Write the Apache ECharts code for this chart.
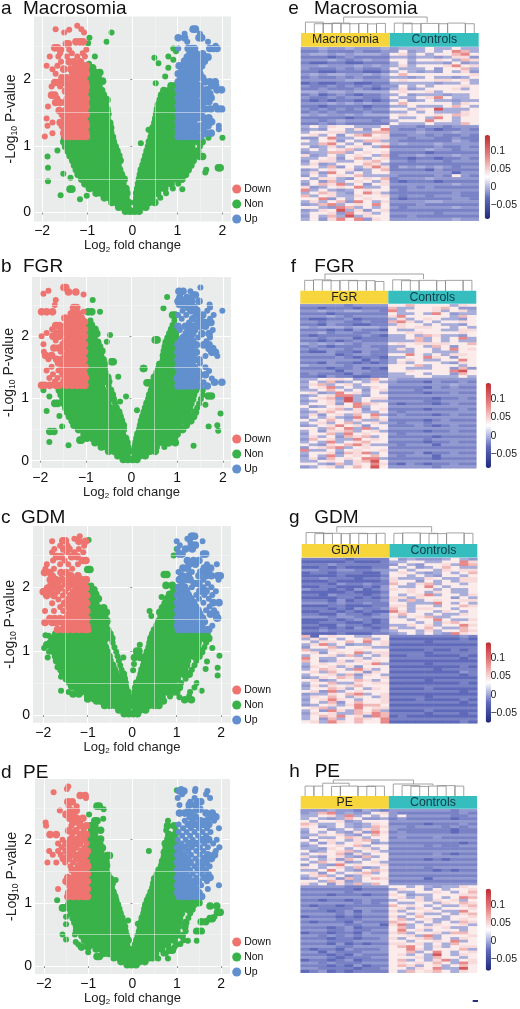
<!DOCTYPE html>
<html><head><meta charset="utf-8">
<style>html,body{margin:0;padding:0;background:#fff}#c{width:520px;height:1009px}</style>
<script src="https://cdn.jsdelivr.net/npm/echarts@6/dist/echarts.min.js"></script>
</head><body><div id="c"></div>
<script>
// Volcano data: each row is [y, x, x, ...]
const a_non=[[.02,-.15,-.05,.05,.15],[.08,-.3,-.2,-.1,.1,.2,.3],[.15,-.45,-.35,-.25,-.15,-.08,.07,.16,.26,.37,.5],
[.22,-.62,-.5,-.38,-.26,-.14,.1,.2,.32,.44,.62],[.29,-.8,-.68,-.56,-.44,-.32,-.2,-.12,.1,.2,.32,.44,.56,.75],
[.36,-.95,-.83,-.71,-.59,-.47,-.35,-.23,-.14,.12,.24,.36,.48,.6,.72,.9],[.43,-1.05,-.93,-.81,-.69,-.57,-.45,-.33,-.21,.14,.26,.38,.5,.62,.74,.86,1.02],
[.5,-1.12,-1,-.88,-.76,-.64,-.52,-.4,-.28,-.18,.16,.28,.4,.52,.64,.76,.88,1,1.1],[.57,-1.2,-1.08,-.96,-.84,-.72,-.6,-.48,-.36,-.24,.18,.3,.42,.54,.66,.78,.9,1.02,1.18],
[.64,-1.24,-1.12,-1,-.88,-.76,-.64,-.52,-.4,-.28,.2,.32,.44,.56,.68,.8,.92,1.04,1.16,1.24],[.71,-1.28,-1.16,-1.04,-.92,-.8,-.68,-.56,-.44,-.32,.24,.36,.48,.6,.72,.84,.96,1.08,1.2,1.3],
[.78,-1.32,-1.2,-1.08,-.96,-.84,-.72,-.6,-.48,-.36,-.27,.27,.39,.51,.63,.75,.87,.99,1.11,1.23,1.35],[.85,-1.38,-1.26,-1.14,-1.02,-.9,-.78,-.66,-.54,-.42,-.3,.3,.42,.54,.66,.78,.9,1.02,1.14,1.26,1.4],
[.92,-1.42,-1.3,-1.18,-1.06,-.94,-.82,-.7,-.58,-.46,-.34,.33,.45,.57,.69,.81,.93,1.05,1.17,1.29,1.45],[.99,-1.48,-1.36,-1.24,-1.12,-1,-.88,-.76,-.64,-.52,-.38,.36,.48,.6,.72,.84,.96,1.08,1.2,1.32,1.5],
[1.06,-1.52,-1.4,-1.28,-1.16,-1.04,-.92,-.8,-.68,-.56,-.42,.38,.5,.62,.74,.86,.98,1.1,1.22,1.34,1.46,1.55],[1.13,-1.5,-1.38,-1.26,-1.14,-1.02,-.9,-.78,-.66,-.54,-.44,.42,.54,.66,.78,.9,1.02,1.14,1.26,1.38,1.5],
[1.2,-.98,-.86,-.74,-.62,-.48,.44,.56,.68,.8,.92],[1.27,-.92,-.8,-.68,-.56,-.48,.46,.58,.7,.82,.95],[1.34,-.98,-.86,-.74,-.62,-.5,.5,.62,.74,.86,.97],
[1.41,-.92,-.8,-.68,-.56,.52,.64,.76,.88,.96],[1.48,-.98,-.86,-.74,-.62,-.54,.54,.66,.78,.9],[1.55,-.92,-.8,-.68,-.56,.56,.68,.8,.92,.97],
[1.62,-.98,-.86,-.74,-.6,.58,.7,.82,.94],[1.69,-.92,-.8,-.66,-.56,.62,.74,.86,.96],[1.76,-.98,-.86,-.74,-.64,.65,.77,.89,.97],
[1.83,-.92,-.8,-.68,.7,.82,.94],[1.9,-.98,-.86,-.74,.86,.95],[1.97,-.92,-.8,-.66],[2.04,-.98,-.86,-.76,.73],[2.1,-.92,-.82,-.72],[2.17,-.98,-.88,.8],[2.23,-.96],
[2.7,-.46],[2.56,-.57],[2.62,-.95],[2.54,-.98],[2.34,-.83,.8],[2.24,.58],[2.32,.49],[2.46,.91],[2.42,.97],[2.29,.91],[1.94,.52],[1.04,.19],[1.24,.36],
[.84,-1.88],[.67,-1.87,1.91,1.95],[.47,-1.87],[.93,-1.66],[.58,-1.53],[.52,-1.37],[.26,-1.59],[.35,-1.38,-1.34,1.11],[.2,-1.16],[.25,-1.01],[1.12,2,1.69],[.64,1.64],[.84,1.5,1.56],[.6,1.62]];
const a_down=[[1.14,-1.94,-1.48,-1.38,-1.28,-1.18,-1.08,-1.02],[1.19,-1.77,-1.52,-1.42,-1.32,-1.22,-1.12,-1.03],[1.25,-1.5,-1.36,-1.26,-1.16,-1.06],[1.3,-1.88,-1.55,-1.42,-1.3,-1.2,-1.1,-1.02],[1.35,-1.77,-1.6,-1.48,-1.36,-1.24,-1.14,-1.04],[1.41,-1.9,-1.5,-1.4,-1.28,-1.18,-1.08],[1.47,-1.55,-1.44,-1.32,-1.22,-1.12,-1.02],[1.53,-1.62,-1.48,-1.38,-1.26,-1.16,-1.06],
[1.59,-1.87,-1.42,-1.3,-1.2,-1.1,-1.02],[1.65,-1.7,-1.6,-1.48,-1.36,-1.24,-1.14,-1.04],[1.71,-1.66,-1.44,-1.32,-1.22,-1.12,-1.02],[1.76,-1.79,-1.72,-1.4,-1.28,-1.18,-1.08],[1.82,-1.48,-1.36,-1.24,-1.14,-1.04],[1.89,-1.79,-1.6,-1.42,-1.3,-1.2,-1.1,-1.02],[1.95,-1.72,-1.66,-1.5,-1.34,-1.24,-1.14,-1.04],[2.02,-1.56,-1.46,-1.3,-1.18,-1.08],
[2.08,-1.7,-1.32,-1.22,-1.12,-1.02],[2.15,-1.77,-1.52,-1.36,-1.28,-1.16,-1.04],[2.2,-1.9,-1.66,-1.25,-1.1,-1.02],[2.26,-1.58,-1.4,-1.3,-1.15],[2.34,-1.83,-1.64,-1.45,-1.22,-1.05],[2.39,-1.6,-1.34,-1.1],[2.44,-1.57,-1.4,-1.02],[2.47,-1.72,-1.66],[2.53,-1.42,-1.46],[2.56,-1.25,-1.16,-1.09],[2.7,-1.51,-1.07],[2.75,-1.7,-1.13],[2.74,-1.4],[2.8,-1.22]];
const a_up=[[1.14,1.02,1.12,1.22,1.32,1.42,1.52],[1.19,1.04,1.16,1.28,1.38,1.62,1.75],[1.25,1.02,1.1,1.22,1.34,1.46,1.56,1.92],[1.3,1.06,1.16,1.28,1.4,1.52,1.68,1.92],[1.36,1.02,1.12,1.24,1.36,1.62,1.76],[1.42,1.06,1.18,1.3,1.46,1.58,1.7],[1.48,1.02,1.12,1.24,1.38,1.52],[1.55,1.06,1.18,1.3,1.44,1.62,1.74,1.9,1.98],[1.6,1.02,1.12,1.24,1.38,1.52,1.85],[1.66,1.06,1.18,1.3,1.46,1.6,1.7],[1.72,1.02,1.14,1.26,1.4,1.56,1.75,1.66],[1.78,1.08,1.2,1.32,1.48,1.62,1.72],[1.84,1.02,1.14,1.28,1.42,1.55,1.66,1.88,1.98],[1.9,1.06,1.2,1.34,1.5,1.76,1.85],[1.96,1.02,1.12,1.26,1.4,1.62,1.72,1.84],[2.02,1.08,1.2,1.34,1.46,1.56],[2.08,1.02,1.14,1.28,1.42,1.5],[2.14,1.1,1.22,1.36,1.48],[2.2,1.04,1.16,1.28,1.42,1.54],[2.27,1.16,1.3,1.46,1.6],[2.33,1.22,1.36,1.5,1.62,1.68],[2.38,1.28,1.42,1.56],[2.46,1.02,1.24,1.32,1.38,1.72,1.8,1.88],[2.5,1.85],[2.56,1.22,1.68],[2.62,1.02,1.16,1.48,1.54],[2.68,1.16,1.5],[2.75,1.35,1.4]];

const b_non=[[.02,-.18,-.08,.02,.12],[.08,-.3,-.2,-.1,.08,.18,.3],[.15,-.5,-.38,-.26,-.14,-.06,.06,.16,.28,.4,.52],[.22,-.66,-.54,-.42,-.3,-.18,-.09,.08,.18,.3,.42,.54,.72],
[.29,-.8,-.68,-.56,-.44,-.32,-.2,-.1,.1,.22,.34,.46,.58,.7,.82],[.36,-.98,-.86,-.74,-.62,-.5,-.38,-.26,-.13,.12,.24,.36,.48,.6,.72,.84,.94],[.43,-1.04,-.92,-.8,-.68,-.56,-.44,-.32,-.2,.14,.26,.38,.5,.62,.74,.86,1],
[.5,-1.16,-1.04,-.92,-.8,-.68,-.56,-.44,-.32,-.18,.18,.3,.42,.54,.66,.78,.9,1.02,1.12],[.57,-1.26,-1.14,-1.02,-.9,-.78,-.66,-.54,-.42,-.3,-.18,.2,.32,.44,.56,.68,.8,.92,1.04,1.2],[.64,-1.3,-1.18,-1.06,-.94,-.82,-.7,-.58,-.46,-.34,-.22,.22,.34,.46,.58,.7,.82,.94,1.06,1.18,1.3],
[.71,-1.36,-1.24,-1.12,-1,-.88,-.76,-.64,-.52,-.4,-.25,.25,.37,.49,.61,.73,.85,.97,1.09,1.21,1.36],[.78,-1.4,-1.28,-1.16,-1.04,-.92,-.8,-.68,-.56,-.44,-.28,.28,.4,.52,.64,.76,.88,1,1.12,1.24,1.4],
[.85,-1.44,-1.32,-1.2,-1.08,-.96,-.84,-.72,-.6,-.48,-.34,.31,.43,.55,.67,.79,.91,1.03,1.15,1.27,1.44],[.92,-1.48,-1.36,-1.24,-1.12,-1,-.88,-.76,-.64,-.52,-.36,.34,.46,.58,.7,.82,.94,1.06,1.18,1.3,1.48],
[.99,-1.5,-1.38,-1.26,-1.14,-1.02,-.9,-.78,-.66,-.54,-.4,.38,.5,.62,.74,.86,.98,1.1,1.22,1.34,1.52],[1.06,-1.54,-1.42,-1.3,-1.18,-1.06,-.94,-.82,-.7,-.58,-.42,.4,.52,.64,.76,.88,1,1.12,1.24,1.36,1.56],[1.13,-1.58,-1.46,-1.34,-1.22,-1.1,-.98,-.86,-.74,-.62,-.46,.44,.56,.68,.8,.92,1.04,1.16,1.28,1.4,1.56],
[1.2,-1.48,-1.36,-1.02,-.9,-.78,-.66,-.5,.46,.58,.7,.82,.94],[1.27,-.96,-.84,-.72,-.6,-.5,.5,.62,.74,.86,.98],[1.34,-.98,-.86,-.74,-.62,-.52,.5,.6,.72,.84,.96],[1.41,-.94,-.82,-.7,-.58,.56,.68,.8,.92],[1.48,-.98,-.86,-.74,-.6,.6,.72,.84,.96],[1.55,-.94,-.82,-.7,-.6,.62,.74,.86,.98],[1.62,-.98,-.86,-.74,-.62,.7,.82,.94],[1.69,-.94,-.82,-.68,.7,.82,.96],[1.76,-.98,-.86,-.74,-.65,.72,.84,.97],[1.83,-.94,-.82,-.7,.74,.86,.98],[1.9,-.98,-.86,-.74,.76,.88],[1.97,-.94,-.82,.8,.92,.98],[2.04,-.98,-.86,-.76,.84,.96],[2.11,-.92,-.8,.88,.97],[2.18,-.98,-.88,.9],[2.25,-.9,.94],
[2.58,-.85],[2.39,-.69,-.87,-.95],[2.63,.78],[2.45,.7],[2.34,.96,.9],[1.03,-.12],[.95,-.25],[1.35,-.29],[2.02,-.47],[1.91,-.54],[1.59,-.4,-.44],[1.94,.56,.52],[1.48,.26,.27],[.81,.12],[.76,1.95],[.55,1.69],[.57,1.88],[.24,1.36],[.29,.96,.8],[.3,-1.8],[.25,-1.38],[.33,-1.13,-1.1],[.47,-1.79,-1.7],[.55,-1.52],[1.13,-1.93],[.8,-1.86],[1.03,-1.8],[.92,-1.68,-1.62],[.72,-1.58],[1.04,1.68,1.75],[.9,1.62],[.48,1.9],[1.25,.34,.4]];
const b_down=[[1.21,-1.97,-1.9,-1.79,-1.66,-1.58,-1.42,-1.3,-1.2,-1.1,-1.02],[1.27,-1.68,-1.48,-1.36,-1.25,-1.14,-1.04],[1.33,-1.8,-1.62,-1.42,-1.3,-1.2,-1.08,-1.01],[1.39,-1.72,-1.5,-1.38,-1.26,-1.14,-1.04],[1.45,-1.86,-1.6,-1.44,-1.32,-1.2,-1.08],[1.51,-1.75,-1.5,-1.38,-1.26,-1.14,-1.02],[1.57,-1.6,-1.46,-1.34,-1.22,-1.1],[1.63,-1.82,-1.64,-1.52,-1.38,-1.28,-1.16,-1.04],[1.69,-1.88,-1.75,-1.44,-1.32,-1.2,-1.08],[1.75,-1.92,-1.55,-1.38,-1.26,-1.14,-1.03],[1.81,-1.7,-1.6,-1.46,-1.32,-1.2,-1.08],[1.87,-1.93,-1.5,-1.38,-1.26,-1.14,-1.03],[1.93,-1.66,-1.44,-1.32,-1.2,-1.08],[2,-1.97,-1.72,-1.58,-1.38,-1.26,-1.14,-1.03],[2.05,-1.86,-1.64,-1.5,-1.44,-1.3,-1.2,-1.08],[2.11,-1.74,-1.55,-1.38,-1.26,-1.14,-1.03],[2.17,-1.66,-1.58,-1.44,-1.32,-1.2,-1.08],[2.23,-1.38,-1.26,-1.14,-1.03],[2.29,-1.46,-1.34,-1.2,-1.1],[2.36,-1.32,-1.24,-1.16],[2.39,-1.97,-1.86,-1.73,-1.05],[2.46,-1.27,-1.2],[2.5,-1.68],[2.58,-1.66],[2.67,-1.05],[2.68,-1.93],[2.71,-1.22,-1.38],[2.73,-1.82],[2.78,-1.48,-1.44]];
const b_up=[[1.2,1.02,1.12,1.24,1.36,1.5,1.66],[1.26,1.04,1.16,1.28,1.4,1.58,1.82,1.98],[1.32,1,1.1,1.22,1.34,1.46,1.76],[1.38,1.04,1.16,1.28,1.4,1.5,1.62],[1.44,1.1,1.22,1.34,1.46,1.7],[1.5,1.02,1.14,1.26,1.38,1.62],[1.56,1.08,1.2,1.32,1.5],[1.62,1.02,1.14,1.26,1.38,1.48],[1.68,1.08,1.2,1.34,1.62,1.88],[1.74,1.02,1.14,1.26,1.42,1.76,1.84],[1.8,1.08,1.2,1.34,1.7,1.78],[1.86,1.02,1.14,1.26,1.42,1.58,1.7],[1.92,1.08,1.22,1.34,1.64],[1.98,1.14,1.28,1.46,1.72],[2.04,1.2,1.34,1.54,1.7],[2.1,1.06,1.26,1.38,1.78],[2.16,1.02,1.18,1.34,1.5,1.62],[2.22,1.26,1.44,1.6,1.68,1.74],[2.28,1.1,1.34,1.5,1.72],[2.34,1.02,1.2,1.42,1.56,1.8],[2.41,1.12,1.3,1.44,1.66,1.99],[2.46,1.24,1.38,1.72],[2.51,1.05,1.14,1.26,1.71],[2.56,1.02,1.14,1.32,1.48],[2.62,1.06,1.22],[2.66,1.4,1.36],[2.72,1.04,1.13,1.29],[2.78,1.51]];

const c_non=[[.02,-.18,-.08,.02,.12],[.08,-.3,-.2,-.1,.08,.18,.3],[.15,-.62,-.5,-.38,-.26,-.14,-.05,.05,.14,.26,.38,.5,.6],[.22,-.8,-.68,-.56,-.44,-.32,-.2,-.08,.06,.18,.3,.42,.54,.7],[.29,-1,-.88,-.76,-.64,-.52,-.4,-.28,-.16,-.08,.07,.19,.31,.43,.55,.67,.85],
[.36,-1.16,-1.04,-.92,-.8,-.68,-.56,-.44,-.32,-.2,-.1,.07,.19,.31,.43,.55,.67,.79,.91,1],[.43,-1.26,-1.14,-1.02,-.9,-.78,-.66,-.54,-.42,-.3,-.15,.08,.2,.32,.44,.56,.68,.8,.92,1.06],[.5,-1.32,-1.2,-1.08,-.96,-.84,-.72,-.6,-.48,-.36,-.24,-.16,.1,.22,.34,.46,.58,.7,.82,.94,1.1],
[.57,-1.48,-1.36,-1.24,-1.12,-1,-.88,-.76,-.64,-.52,-.4,-.28,-.18,.17,.29,.41,.53,.65,.77,.89,1.01,1.2],[.64,-1.56,-1.44,-1.32,-1.2,-1.08,-.96,-.84,-.72,-.6,-.48,-.36,-.2,.2,.32,.44,.56,.68,.8,.92,1.04,1.16,1.28],[.71,-1.6,-1.48,-1.36,-1.24,-1.12,-1,-.88,-.76,-.64,-.52,-.4,-.24,.22,.34,.46,.58,.7,.82,.94,1.06,1.18,1.34],
[.78,-1.64,-1.52,-1.4,-1.28,-1.16,-1.04,-.92,-.8,-.68,-.56,-.44,-.27,.26,.38,.5,.62,.74,.86,.98,1.1,1.22,1.4],[.85,-1.7,-1.58,-1.46,-1.34,-1.22,-1.1,-.98,-.86,-.74,-.62,-.5,-.3,.28,.4,.52,.64,.76,.88,1,1.12,1.24,1.44],[.92,-1.72,-1.6,-1.48,-1.36,-1.24,-1.12,-1,-.88,-.76,-.64,-.52,-.33,.3,.42,.54,.66,.78,.9,1.02,1.14,1.26,1.38,1.5],
[.99,-1.76,-1.64,-1.52,-1.4,-1.28,-1.16,-1.04,-.92,-.8,-.68,-.56,-.36,.34,.46,.58,.7,.82,.94,1.06,1.18,1.3,1.42,1.56],[1.06,-1.8,-1.68,-1.56,-1.44,-1.32,-1.2,-1.08,-.96,-.84,-.72,-.6,-.4,.38,.5,.62,.74,.86,.98,1.1,1.22,1.34,1.46,1.62],[1.13,-1.84,-1.72,-1.6,-1.48,-1.36,-1.24,-1.12,-1,-.88,-.76,-.64,-.44,.4,.52,.64,.76,.88,1,1.12,1.24,1.36,1.48,1.66],
[1.2,-1.8,-1.68,-1.56,-1.44,-1.32,-1.2,-1.08,-.96,-.84,-.72,-.6,-.46,.42,.54,.66,.78,.9,1.02,1.14,1.26,1.38,1.5,1.62,1.72],[1.27,-1.72,-1.6,-1.48,-1.36,-1.24,-1.12,-1,-.88,-.76,-.64,-.5,.46,.58,.7,.82,.94,1.06,1.18,1.3,1.42,1.54,1.68],[1.33,-1.55,-1.43,-1.31,-1.19,-1.07,-.95,-.83,-.71,-.55,.5,.62,.74,.86,.98,1.1,1.22,1.34,1.46,1.58],
[1.4,-.98,-.86,-.74,-.6,.56,.68,.8,.92],[1.47,-.94,-.82,-.7,-.56,.6,.72,.84,.96],[1.54,-.98,-.86,-.72,-.62,.65,.77,.89],[1.61,-.94,-.8,-.7,-.58,.62,.74,.86,.98],[1.68,-.98,-.86,-.76,-.64,.68,.8,.92],[1.75,-.94,-.82,.74,.86,.98],[1.82,-.98,-.86,-.76,.78,.9],[1.89,-.94,-.82,.84,.96],[1.96,-.98,-.86,.92],[2.03,-.92,.9,.76],[2.2,.72,.78],[2.28,-1,-.95],[2.74,-.98],[2.6,1],[2.5,.93],[2.02,-1],[1.63,.39],[1.55,.43],[1.85,.66],
[1.1,.17],[1,.15,.1],[.9,.05,.18,-.2],[.8,.04],[.7,.02],[1.25,-1.95],[1.24,-1.88],[1.1,-1.92,-1.88],[1.05,-1.98],[.99,-1.87],[.9,-1.9],[.75,-1.68],[.6,-1.6],[.38,-1.6],[.36,-1.43],[.33,-1.33,-1.2],[.25,-1,-.85],[.21,-.72],[.5,-1.42],[.45,-1.36,-1.3],[.74,1.92],[.93,1.96],[.62,1.92],[.72,1.65],[.84,1.68],[1.05,1.8],[.38,1.56],[.5,1.45],[.43,1.4],[.36,1.3],[.28,1.06],[.24,1.33,1.18],[.3,1.28]];
const c_down=[[1.34,-1.68,-1.56,-1.44,-1.32,-1.2,-1.08,-1],[1.4,-1.48,-1.36,-1.24,-1.12,-1.02],[1.45,-1.96,-1.8,-1.7,-1.56,-1.42,-1.3,-1.18,-1.06],[1.51,-1.85,-1.74,-1.62,-1.48,-1.36,-1.24,-1.12,-1.02],[1.57,-1.44,-1.32,-1.2,-1.08],[1.63,-1.96,-1.76,-1.55,-1.38,-1.26,-1.14,-1.02],[1.69,-1.62,-1.44,-1.32,-1.2,-1.08],[1.75,-1.8,-1.52,-1.38,-1.26,-1.14,-1.02],[1.81,-1.66,-1.44,-1.32,-1.2,-1.08],[1.87,-1.92,-1.76,-1.56,-1.38,-1.26,-1.14,-1.02],[1.93,-2,-1.95,-1.85,-1.68,-1.5,-1.32,-1.2,-1.08],[1.99,-1.9,-1.74,-1.62,-1.44,-1.26,-1.14,-1.04],[2.05,-1.82,-1.68,-1.5,-1.36,-1.2,-1.08],[2.12,-1.84,-1.72,-1.58,-1.44,-1.3,-1.14,-1.03],[2.18,-1.78,-1.38,-1.22],[2.23,-1.97,-1.85,-1.6,-1.48],[2.29,-1.95,-1.76,-1.35],[2.36,-1.92,-1.62,-1.44,-1.22],[2.42,-1.78,-1.52,-1.12,-1.04],[2.48,-1.7,-1.6,-1.36,-1.24],[2.55,-1.8,-1.47,-1.3,-1.1],[2.6,-1.75,-1.54,-1.42,-1.2],[2.65,-1.62,-1.45,-1.08],[2.72,-1.8,-1.2,-1.05],[2.73,-1.56,-1.5],[2.76,-1.3],[2.8,-1.18]];
const c_up=[[1.34,1.04,1.14,1.26,1.38,1.5,1.62,1.72],[1.4,1.02,1.08,1.2,1.32,1.44,1.56,1.8],[1.46,1.04,1.14,1.26,1.38,1.5,1.62],[1.52,1.02,1.1,1.22,1.34,1.46,1.58,1.9,1.92],[1.58,1.06,1.16,1.28,1.4,1.52,1.76,1.88],[1.64,1.02,1.12,1.24,1.36,1.48,1.66,1.84],[1.7,1.06,1.18,1.3,1.42,1.74],[1.76,1.02,1.14,1.26,1.38,1.6,1.82,1.95],[1.82,1.08,1.2,1.32,1.5,1.72],[1.88,1.02,1.14,1.26,1.44,1.62,1.8],[1.94,1.08,1.22,1.52,1.66,1.88],[2,1.04,1.18,1.34,1.6,1.78],[2.06,1.12,1.4,1.5,1.7],[2.12,1.06,1.2,1.3,1.6,1.94],[2.18,1.12,1.26,1.5,1.66,1.78,1.98,1.92],[2.24,1.04,1.34,1.54,1.7],[2.3,1.14,1.24,1.62,1.76],[2.36,1.28,1.42,1.68,1.9],[2.42,1.24,1.38,1.5],[2.52,1.05,1.12,1.6,1.65],[2.6,1.02,1.2,1.35],[2.66,1.07,1.33,1.42],[2.72,1,1.58,1.3],[2.76,1.24],[2.8,1.33,1.4,1.36]];

const d_non=[[.02,-.12,-.02,.08],[.07,-.26,-.16,-.06,.06,.16,.28],[.13,-.42,-.3,-.18,-.08,.05,.14,.26,.38,.46],[.2,-.66,-.54,-.42,-.3,-.18,-.08,.05,.16,.28,.4,.52,.7],[.27,-.82,-.7,-.58,-.46,-.34,-.22,-.08,.06,.18,.3,.42,.54,.66,.84],
[.34,-1,-.88,-.76,-.64,-.52,-.4,-.28,-.14,.07,.19,.31,.43,.55,.67,.79,1],[.41,-1.08,-.96,-.84,-.72,-.6,-.48,-.36,-.24,-.1,.1,.22,.34,.46,.58,.7,.82,.94,1.15],[.48,-1.14,-1.02,-.9,-.78,-.66,-.54,-.42,-.3,-.14,.13,.25,.37,.49,.61,.73,.85,.97,1.12],
[.55,-1.22,-1.1,-.98,-.86,-.74,-.62,-.5,-.38,-.26,-.17,.16,.28,.4,.52,.64,.76,.88,1,1.2],[.62,-1.26,-1.14,-1.02,-.9,-.78,-.66,-.54,-.42,-.3,-.18,.18,.3,.42,.54,.66,.78,.9,1.02,1.18],[.69,-1.3,-1.18,-1.06,-.94,-.82,-.7,-.58,-.46,-.34,-.21,.2,.32,.44,.56,.68,.8,.92,1.04,1.2],
[.76,-1.34,-1.22,-1.1,-.98,-.86,-.74,-.62,-.5,-.38,-.24,.22,.34,.46,.58,.7,.82,.94,1.06,1.26],[.83,-1.38,-1.26,-1.14,-1.02,-.9,-.78,-.66,-.54,-.42,-.28,.26,.38,.5,.62,.74,.86,.98,1.1,1.3],[.9,-1.4,-1.28,-1.16,-1.04,-.92,-.8,-.68,-.56,-.44,-.31,.28,.4,.52,.64,.76,.88,1,1.12,1.24,1.34],
[.97,-1.44,-1.32,-1.2,-1.08,-.96,-.84,-.72,-.6,-.48,-.34,.3,.42,.54,.66,.78,.9,1.02,1.14,1.26,1.38],[1.04,-1.42,-1.3,-1.18,-1.06,-.94,-.82,-.7,-.58,-.46,-.38,.34,.46,.58,.7,.82,.94,1.06,1.18,1.3],[1.1,-1,-.88,-.76,-.64,-.52,-.4,.38,.5,.62,.74,.86,.98],
[1.17,-.96,-.84,-.72,-.6,-.44,.42,.54,.66,.78,.9],[1.24,-.98,-.86,-.74,-.62,-.48,.46,.58,.7,.82,.94],[1.31,-.94,-.82,-.7,-.58,-.46,.48,.6,.72,.84,.96],[1.38,-.98,-.86,-.74,-.62,-.5,.5,.62,.74,.86,.98],[1.45,-.94,-.82,-.7,-.56,.56,.68,.8,.92],[1.52,-.98,-.86,-.74,-.6,.6,.72,.84,.96],[1.59,-.94,-.82,-.7,-.58,.66,.78,.9,.98],[1.66,-.98,-.86,-.72,-.6,.68,.8,.92],[1.73,-.94,-.82,-.66,.72,.84,.96],[1.8,-.98,-.86,-.72,.72,.84,.98],[1.87,-.94,-.82,-.68,.76,.88],[1.94,-.98,-.86,-.74,.74,.86,.98],[2.01,-.94,-.82,-.72,.8,.92],[2.08,-.98,-.86,.82,.96],[2.15,-.92,-.84,-.72,.76,.98],[2.22,-.95,-.85,.79,.94],[2.3,-.85,-.8,.8],[2.33,-.66],[2.4,-.98],[2.48,-.65],[2.53,-.8,-.75],[2.78,1],[1.75,-.52,-.57],[1.82,.37],[1.36,-.38],
[1.04,-1.7],[.92,-1.58,-1.55],[.78,-1.5],[.66,-1.5],[.5,-1.58],[.42,-1.5],[.56,-1.28],[.5,-1.3],[.38,-1.28],[.34,-1.22],[.3,-1.15,-1],[.22,-1],[.15,-.8,-.75],[.67,.12],[.72,-.1],[.95,1.75,1.9],[1.0,1.4,1.5],[.85,1.98,1.92],[.78,1.85],[.75,1.75,1.8],[.7,1.55,1.65],[.55,1.45,1.55],[.4,1.25,1.45],[.35,1.08],[.3,.95],[.25,.84,.9],[.2,.75],[.12,.58,.8]];
const d_down=[[1.1,-1.46,-1.34,-1.22,-1.1,-1.02],[1.16,-1.44,-1.3,-1.18,-1.06],[1.22,-1.68,-1.38,-1.26,-1.14,-1.02],[1.28,-1.42,-1.3,-1.2,-1.08],[1.34,-1.5,-1.38,-1.26,-1.14,-1.02],[1.4,-1.46,-1.32,-1.2,-1.08],[1.46,-1.3,-1.2,-1.12,-1.02],[1.52,-1.36,-1.26,-1.14],[1.58,-1.4,-1.22,-1.08,-1.01],[1.64,-1.92,-1.72,-1.52,-1.34,-1.16,-1.04],[1.7,-1.56,-1.44,-1.26,-1.12],[1.76,-1.8,-1.62,-1.44,-1.32,-1.2,-1.06],[1.82,-1.88,-1.68,-1.5,-1.36,-1.14,-1.02],[1.88,-1.6,-1.42,-1.28,-1.08],[1.94,-1.68,-1.5,-1.34,-1.2,-1.03],[2,-1.58,-1.4,-1.26,-1.1],[2.08,-1.86,-1.72,-1.36,-1.18,-1.04],[2.14,-1.44,-1.28,-1.1],[2.22,-1.95,-1.38,-1.18,-1.04],[2.27,-1.96,-1.34,-1.2],[2.34,-1.42,-1.26,-1.12],[2.4,-1.5,-1.34],[2.46,-1.64,-1.4,-1.27],[2.53,-1.44,-1.26],[2.6,-1.46,-1.36],[2.66,-1.05],[2.7,-1.18,-1.07],[2.75,-1.78],[2.8,-1.48],[2.84,-1.45]];
const d_up=[[1.1,1.06,1.18,1.3,1.42,1.56],[1.16,1.02,1.12,1.24,1.36,1.5],[1.22,1.04,1.16,1.3,1.44,1.7],[1.28,1.02,1.12,1.24,1.38,1.55,1.95],[1.34,1.06,1.18,1.34,1.48,1.68],[1.4,1.02,1.14,1.26,1.44,1.62,1.75],[1.46,1.08,1.2,1.36,1.54,1.72],[1.52,1.02,1.14,1.3,1.48,1.64],[1.58,1.08,1.22,1.4,1.56,1.74],[1.64,1.02,1.16,1.3,1.5,1.66],[1.7,1.08,1.24,1.42,1.62,1.78],[1.76,1.02,1.16,1.32,1.52,1.7,1.85],[1.82,1.08,1.26,1.44,1.6,1.88],[1.88,1.02,1.18,1.34,1.52,1.7,1.96],[1.94,1.1,1.28,1.44,1.62,1.82],[2,1.02,1.2,1.36,1.56,1.72,1.9],[2.06,1.12,1.3,1.48,1.66],[2.12,1.04,1.22,1.4,1.58,1.76],[2.18,1.14,1.32,1.5,1.68,1.95],[2.24,1.04,1.26,1.42,1.58,1.72],[2.3,1.18,1.36,1.54,1.68,1.84],[2.36,1.3,1.42,1.76,1.88],[2.42,1.06,1.18,1.32,1.66,1.8],[2.48,1.26,1.44,1.52],[2.55,1.06,1.28,1.42],[2.6,1.3,1.54,1.48],[2.66,1.02,1.4,1.75],[2.72,1.12,1.66],[2.77,1.06,1.16,1.41,1.69],[2.8,1.1,1.42]];

// Heatmap values: one digit per sample (20 columns), row by row, indexing heatLevels
const heatLevels=[-.042,-.03,-.02,-.011,-.003,.038,.046,.062,.085,.115];
const hm_e=`33433433343444544544
22322232233534545874
34434344435645455785
22212322224434434663
33343234335545565476
21122112224534443534
33433343434645556856
32223232235444535574
22112221124543435463
34344334345755555556
23223232234434544345
33333443335655566564
12112211224444434454
32232323233545455565
22322232124634555645
44344344445655645555
23123212234534443445
32232332235445685445
21212212124534544344
33343434335755555465
22122221224454445754
32323232335546594445
23232223224454544465
43433434445655565765
22222122225445485455
33234333234555855455
22323222225444544475
45465544453332332333
34355463583223212232
45566444773334333433
56453578562233232232
33584455663323322322
54563547743222222432
44785453563433343333
53464565482222232232
45456745553333433233
34477456562222122222
63454565472334333433
44563574562212212232
35664456753323332333
46345557642222222222
55473546862434343233
34565634572222132222
46385454553333333133
35456574443222232532
54664356572333433333
45374565462122212222
35768453563333333433
63456584452232322222
84543456553233333333
45764358642222222322
74564465563233233322
55835456552122222332
46457385463333443333
34784565852223222222
55438745453233333433
34659463562222222222
45563856453333323333
35474946552232222222
45368583653333333433`.split('\n');
const hm_f=`33333233335575555465
22122212227445567533
33433443328455564564
22212222225445485344
33343233336855555475
21122312224645654435
33233223227864545565
22132211224655454435
43444344435656655454
22212132215445554466
33423322335566555565
21222223214454764435
33233312224457454584
22121232224447454544
43434323335656666557
23212223224455475355
32333233324645545856
21132213224445544455
33331233225585454665
22223212214455865355
33333331324565445585
22132212124645554365
43333233335557455545
22212231215544455373
33331333225565555895
23222132224455455375
22132211224445544454
44566534754333333333
35473454643222132232
46745645553333333433
35684544652222132322
44575453563332333333
56348564542222122322
34568843553333333333
45673945662222212232
34564945443333223333
45563587652122212322
53456584553333333333
45567463562222122232
34675564453233333333
46356475842322212322
35464385753333333333
54575464462222123222
45645745643233233333
34568563552223212322
55475848453333333333
45366745642222122322
35574856553233333333
46453767452222212222
37564485653333233333
45484567552222122322
54365786443233313333
35678456552222222222
84454565563333333333
45563768452223122322
35484565753233313333
46375658842222212222
44565467953333333333
55437465862132122322
34564575953333323333`.split('\n');
const hm_g=`22222122225343334543
11111211124455445586
22232222223543556487
11212111225453457544
33223322334545546566
12212221135654345457
11112111125545435545
22322212236444654466
11121111126553545466
22213223227546745545
11221112135445854555
32212131236565545445
11111211125565465445
22132221235456845546
11112212126646555354
22213122236474565566
33323223225544485454
11122111226645545576
22212132237546655455
11221212118645546545
22113221235755454465
33323322336456744555
11121232125545585446
11222112125554546755
22113221224465645586
11212132126445754475
22322222234554645576
11112111223454543865
71565544552222222232
46454557451111111121
54665758562222122222
46845344561111111111
35574556442222222222
74465565551111211212
56356584662222122222
45564745461122111121
85445564552222222212
75346465651111111111
45656556842222122222
36564635551111111121
45765486452222212222
56475563651111111132
45564736542222222212
34657645561111111111
56345576452222122222
45574465661111111121
36465675552222222222
45576454651111211111
56384565552222222212
34465784561111111111
46575465462222122222
35686545561112111121
45473575562222222212
34564687751111111111
56745585662222222222
45386475741111211111
36564476872222122212
45768563871211111111
45374576582222222222
56486575581111111121`.split('\n');
const hm_h=`33343324323333333233
34783433563222222232
44564845453533333223
45434753342322222122
54556345553333333333
76445434652222122232
65345434763323332323
45534546753222222122
35454363862322222122
44656435753333333333
35445764552322232222
53565467453333333333
45364565342222222212
34556574553333232233
44365456452222222222
53456745643333333333
45657364552222232122
64356437453333333333
45463754552222121222
54756345643333333333
35438565562222222222
65456473453333233333
44585435762222212122
56354567453333333333
46745346552222222222
34563745763333133333
55476345552222222222
64536474753333333333
33333223335545434465
22222212224655354556
33333233335445565457
22212221226534455566
33333333335646454587
22122123224556465645
33333323235445546576
21221222227565454467
33222233335646545556
22212313226455654485
33332323335546445467
12221212226457554556
33332223335745644565
21222132227654545476
33333223316845465564
22212312225745656445
33322322335856455545
12212213226745564775
33232323335564845556
22212212236456745465
33322233335545565845
22213121226656454755
33332233335785464566
21221322235586455574
33132223335574585456
22212132225645495465
33321222335556475545
12212312225745468456
33232223335656575486
22212131225764564575
33222212235546584495
12312122225475675465`.split('\n');

const groupNames=[['Macrosomia','Controls'],['FGR','Controls'],['GDM','Controls'],['PE','Controls']];
const groupSizes=[10,10];
const volcanoTitles=['Macrosomia','FGR','GDM','PE'];
const volcanoLetters=['a','b','c','d'];
const heatLetters=['e','f','g','h'];
const xTicks=[-2,-1,0,1,2], xMinor=[-1.5,-.5,.5,1.5], yTicks=[0,1,2], yMinor=[.5,1.5,2.5];
const cbTicks=[-.05,0,.05,.1];
// Dendrogram brackets: [x1, x2, height, leftLegBase, rightLegBase], in column units
const dend_e=[[.5,2.5,.68],[1.5,3.5,.58],[2.5,4.5,.6],[3.5,5.5,.62],[4.5,6.5,.58],[6.5,7.5,.6],[7.5,8.5,.57],[8.5,9.5,.6],[10.5,12.5,.62],[11.5,13.5,.58],[13.5,15.5,.6],[15.5,16.5,.58],[16.5,18.5,.62],[18.5,19.5,.58],[4.8,14.2,1,.65,.65]];
const dend_f=[[.5,1.5,.62],[1.5,3.5,.65],[2.5,4.5,.6],[4.5,6.5,.62],[5.5,7.5,.6],[7.5,8.5,.6],[8.5,9.5,.55],[10.5,12.5,.65],[11.5,13.5,.6],[13.5,15.5,.62],[15.5,16.5,.6],[16.5,18.5,.62],[18.5,19.5,.62],[2.8,14,1,.7,.7]];
const dend_g=[[.5,2.5,.66],[1.5,3.5,.6],[2.5,4.5,.62],[4.5,5.5,.6],[5.5,7.5,.62],[6.5,8.5,.6],[8.5,9.5,.62],[10.5,11.5,.62],[11.5,13.5,.64],[13.5,15.5,.62],[14.5,16.5,.6],[16.5,18.5,.64],[18.5,19.5,.62],[4,14.8,1,.68,.68]];
const dend_h=[[.5,1.5,.62],[1.5,2.5,.62],[3.5,4.5,.6],[4.5,6.5,.62],[6.5,8.5,.6],[7.5,9.5,.62],[2.5,5.5,.8,.62,.62],[11.5,13.5,.65],[12.5,14.5,.6],[14.5,16.5,.62],[15.5,17.5,.65],[17.5,18.5,.62],[10.5,15,.75,0,.65],[3.7,12.8,1,.8,.75]];
const dendrograms=[dend_e,dend_f,dend_g,dend_h];
const heatRows=[hm_e,hm_f,hm_g,hm_h];
const volcanoData=[[a_down,a_non,a_up],[b_down,b_non,b_up],[c_down,c_non,c_up],[d_down,d_non,d_up]];

// Layout
const vLay=[
 {l:34,w:197,t:16.5,h:205,xr:[-2.18,2.19],yr:[-.135,2.94],lg:183.5,tt:[-.5,23]},
 {l:32,w:199,t:277,h:191,xr:[-2.18,2.18],yr:[-.117,2.95],lg:433.5,tt:[257,23]},
 {l:33,w:198,t:526,h:196.7,xr:[-2.23,2.22],yr:[-.12,2.96],lg:684.5,tt:[508.5,21]},
 {l:35,w:195,t:779,h:195,xr:[-2.2,2.2],yr:[-.126,2.96],lg:936.5,tt:[763.5,23]}];
const hLay=[
 {l:301,r:478.7,t:47.3,b:220.7,bt:33,dt:17,cl:484.7,ct:135,cb:219,z:187.5,tt:[-.5,288.3,314]},
 {l:300.3,r:476.3,t:304.3,b:468.3,bt:290.7,dt:274,cl:485.7,ct:383,cb:468,z:435.7,tt:[257,290.7,314.3]},
 {l:301.7,r:477.3,t:558,b:723.3,bt:544,dt:526.7,cl:485.7,ct:642.3,cb:722.7,z:694.7,tt:[508.5,289,314.3]},
 {l:300.7,r:477,t:809.3,b:972.7,bt:796,dt:780,cl:485.7,ct:888.7,cb:970.7,z:941.3,tt:[762.5,289.3,314.7]}];
const FONT='"Liberation Sans",Arial,sans-serif';
const COL={Down:'#EE7470',Non:'#39B24A',Up:'#6290CE'};
const grids=[],xAxes=[],yAxes=[],series=[],titles=[],legends=[],vms=[];
// a point with a close neighbour in its row belongs to a dense mass, drawn slightly larger so the mass closes up
function flat(rows){const o=[];rows.forEach(r=>{for(let i=1;i<r.length;i++){
  const near=(i>1&&Math.abs(r[i]-r[i-1])<.16)||(i<r.length-1&&Math.abs(r[i+1]-r[i])<.16);
  o.push({value:[r[i],r[0]],symbolSize:near?7.6:6});}});return o;}
const fmt=v=>String(v).replace('-','\u2212');
function addAxes(g,x,y){const i=grids.length;grids.push(g);xAxes.push(Object.assign({gridIndex:i},x));yAxes.push(Object.assign({gridIndex:i},y));return i;}

vLay.forEach((L,p)=>{
 const i=addAxes({left:L.l,top:L.t,width:L.w,height:L.h,show:true,backgroundColor:'#EAEBEB',borderWidth:0},
 {type:'value',min:L.xr[0],max:L.xr[1],interval:1,
  name:'Log{s|2} fold change',nameLocation:'middle',nameGap:14.5,
  nameTextStyle:{fontFamily:FONT,fontSize:13,color:'#222',rich:{s:{fontSize:8,fontFamily:FONT,color:'#222',padding:[7,0,0,0]}}},
  axisLine:{show:false},axisTick:{show:true,length:2,customValues:xTicks,lineStyle:{color:'#777',width:.8}},
  axisLabel:{customValues:xTicks,formatter:fmt,fontFamily:FONT,fontSize:14,color:'#111',margin:3},
  splitLine:{show:true,lineStyle:{color:'#fff',width:1}}},
 {type:'value',min:L.yr[0],max:L.yr[1],interval:1,
  name:'-Log{s|10} P-value',nameLocation:'middle',nameGap:15,
  nameTextStyle:{fontFamily:FONT,fontSize:14,color:'#222',rich:{s:{fontSize:8.5,fontFamily:FONT,color:'#222',padding:[7,0,0,0]}}},
  axisLine:{show:false},axisTick:{show:true,length:2,customValues:yTicks,lineStyle:{color:'#777',width:.8}},
  axisLabel:{customValues:yTicks,formatter:fmt,fontFamily:FONT,fontSize:14,color:'#111',margin:3},
  splitLine:{show:true,lineStyle:{color:'#fff',width:1}}});
 series.push({type:'scatter',name:'minor',xAxisIndex:i,yAxisIndex:i,data:[],z:1,silent:true,
  markLine:{silent:true,symbol:'none',animation:false,label:{show:false},lineStyle:{color:'#F6F6F6',width:.5,type:'solid'},
   data:xMinor.map(v=>({xAxis:v})).concat(yMinor.map(v=>({yAxis:v})))}});
 const [dn,no,up]=volcanoData[p];
 [['Non',no],['Down',dn],['Up',up]].forEach(([n,d])=>{
  series.push({type:'scatter',name:n,xAxisIndex:i,yAxisIndex:i,data:flat(d),z:2,silent:true,
   itemStyle:{color:COL[n],opacity:1}});
 });
 legends.push({left:232.2,top:L.lg,orient:'vertical',padding:0,itemGap:4,itemWidth:9,itemHeight:9,icon:'circle',selectedMode:false,
  data:['Down','Non','Up'],textStyle:{fontFamily:FONT,fontSize:10.5,color:'#111',padding:[0,0,0,-2]}});
 titles.push({text:volcanoLetters[p],left:1,top:L.tt[0],padding:0,textStyle:{fontFamily:FONT,fontSize:19,fontWeight:'normal',color:'#111'}});
 titles.push({text:volcanoTitles[p],left:L.tt[1],top:L.tt[0],padding:0,textStyle:{fontFamily:FONT,fontSize:19,fontWeight:'normal',color:'#111'}});
});

hLay.forEach((L,p)=>{
 const W=L.r-L.l, rows=heatRows[p];
 const cats=groupSizes[0]+groupSizes[1];
 const hx=Array.from({length:cats},(_,k)=>k), hy=rows.map((_,k)=>k);
 const i=addAxes({left:L.l,top:L.t,width:W,height:L.b-L.t},
  {type:'category',data:hx,show:false},{type:'category',data:hy,inverse:true,show:false});
 const data=[];rows.forEach((r,y)=>{for(let x=0;x<r.length;x++)data.push([x,y,heatLevels[+r[x]]]);});
 const sIdx=series.length;
 series.push({type:'heatmap',xAxisIndex:i,yAxisIndex:i,data,silent:true,progressive:0,itemStyle:{borderWidth:0}});
 vms.push({type:'continuous',seriesIndex:sIdx,dimension:2,min:-.087,max:.144,left:L.cl,top:L.ct,itemWidth:5.3,itemHeight:L.cb-L.ct,
  calculable:false,text:null,showLabel:false,padding:0,hoverLink:false,
  inRange:{color:['#20287C','#5F6ABA','#FFFFFF','#E78484','#BF2A30']},textStyle:{color:'transparent',fontSize:1}});
 const c=addAxes({left:L.cl,top:L.ct,width:5.3,height:L.cb-L.ct},
  {type:'value',min:0,max:1,show:false},
  {type:'value',position:'right',min:-(L.cb-L.z)/362,max:(L.z-L.ct)/362,interval:.05,axisLine:{show:false},axisTick:{show:false,customValues:cbTicks},splitLine:{show:false},
   axisLabel:{customValues:cbTicks,margin:1.5,fontFamily:FONT,fontSize:10.5,color:'#222',formatter:v=>Math.abs(v)<1e-9?'0':fmt(+v.toFixed(2))}});
 series.push({type:'scatter',xAxisIndex:c,yAxisIndex:c,data:[],silent:true});
 const b=addAxes({left:L.l,top:L.bt,width:W,height:L.t-L.bt-.5},
  {type:'value',min:0,max:cats,show:false},{type:'category',data:['g'],show:false});
 groupNames[p].forEach((n,k)=>{
  series.push({type:'bar',stack:'h'+p,xAxisIndex:b,yAxisIndex:b,data:[groupSizes[k]],barWidth:'100%',silent:true,
   itemStyle:{color:k?'#36BDBE':'#F6D63C'},
   label:{show:true,position:'inside',formatter:n,fontFamily:FONT,fontSize:12.3,color:k?'#123C46':'#222'}});
 });
 const d=addAxes({left:L.l,top:L.dt,width:W,height:L.bt-L.dt},
  {type:'value',min:0,max:cats,show:false},{type:'value',min:0,max:1,show:false});
 series.push({type:'custom',xAxisIndex:d,yAxisIndex:d,silent:true,clip:false,
  data:dendrograms[p].map(r=>[r[0],r[1],r[2],r[3]||0,r[4]||0]),
  encode:{x:[0,1],y:[2,3,4]},
  renderItem:(prm,api)=>{
   const x1=api.value(0),x2=api.value(1),h=api.value(2),a=api.value(3),e=api.value(4);
   return {type:'polyline',shape:{points:[api.coord([x1,a]),api.coord([x1,h]),api.coord([x2,h]),api.coord([x2,e])]},
    style:{fill:null,stroke:'#8C8C8C',lineWidth:.8}};
  }});
 titles.push({text:heatLetters[p],left:L.tt[1],top:L.tt[0],padding:0,textStyle:{fontFamily:FONT,fontSize:19,fontWeight:'normal',color:'#111'}});
 titles.push({text:volcanoTitles[p],left:L.tt[2],top:L.tt[0],padding:0,textStyle:{fontFamily:FONT,fontSize:19,fontWeight:'normal',color:'#111'}});
});

const chart=echarts.init(document.getElementById('c'),null,{renderer:'canvas'});
chart.setOption({animation:false,backgroundColor:'#fff',title:titles,legend:legends,grid:grids,xAxis:xAxes,yAxis:yAxes,series,visualMap:vms,
 tooltip:{show:false},
 graphic:[{type:'rect',left:472.7,top:1000,shape:{width:5.3,height:2},style:{fill:'#2B2F80'}}]});
</script></body></html>
